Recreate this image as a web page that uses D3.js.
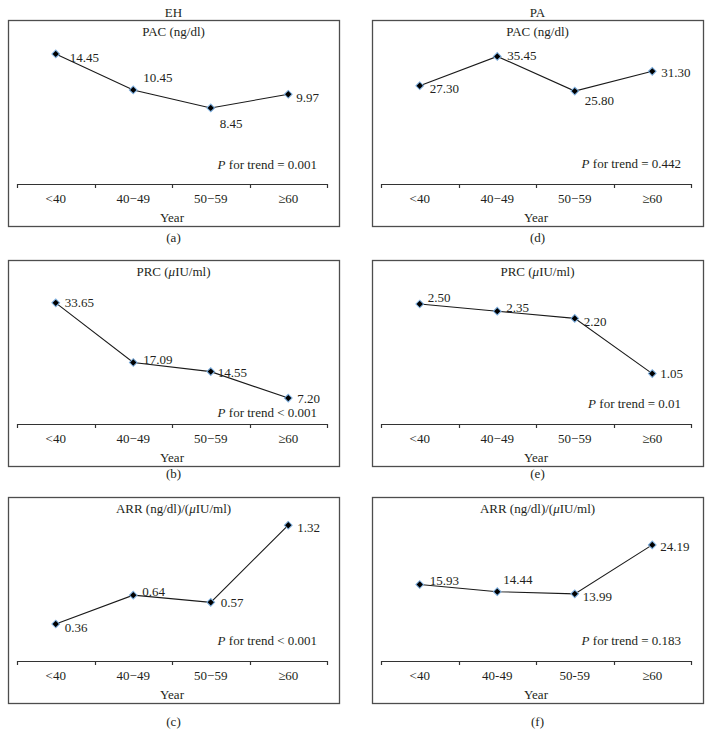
<!DOCTYPE html>
<html>
<head>
<meta charset="utf-8">
<script src="https://cdn.jsdelivr.net/npm/d3@7"></script>
<style>
  html, body { margin: 0; padding: 0; background: #fff; }
  svg { display: block; }
  text { font-family: "Liberation Serif", "Times New Roman", serif; fill: #231f20; }
</style>
</head>
<body>
<svg id="chart" width="711" height="735"></svg>
<script>
// ---------------- data ----------------
const categoriesMinus = ["<40", "40\u221249", "50\u221259", "\u226560"];
const categoriesHyphen = ["<40", "40-49", "50-59", "\u226560"];

const ehPAC = [14.45, 10.45, 8.45, 9.97];
const ehPRC = [33.65, 17.09, 14.55, 7.20];
const ehARR = [0.36, 0.64, 0.57, 1.32];
const paPAC = [27.30, 35.45, 25.80, 31.30];
const paPRC = [2.50, 2.35, 2.20, 1.05];
const paARR = [15.93, 14.44, 13.99, 24.19];

const groupHeaders = ["EH", "PA"];
const panelLetters = ["(a)", "(b)", "(c)", "(d)", "(e)", "(f)"];
const trendTexts = [" for trend = 0.001", " for trend < 0.001", " for trend < 0.001",
                    " for trend = 0.442", " for trend = 0.01", " for trend = 0.183"];
// y-axis maximum of each (hidden) value axis
const yMaxes = [16, 40, 1.4, 40, 3, 30];

// ---------------- layout ----------------
const W = 711, H = 735;
const colX = [8, 372];          // box left
const boxW = 331;
const axisInset = [9, 12];      // axis start / end inset from box
const rowAxisY = [184, 424, 661];
const letterY = [237, 473, 721];
const plotH = 144;
// label offsets [dx, dy(center)] relative to point
const labelOffsets = [
  [[14, 3], [10, -13], [9, 15], [8, 3]],
  [[9, 0], [10, -3], [7, 1], [9, 0]],
  [[9, 3], [9, -4], [10, 0], [9, 2]],
  [[10, 3], [10, -1], [10, 9], [9, 1]],
  [[8, -7], [9, -4], [9, 3], [8, 0]],
  [[10, -4], [6, -12], [8, 3], [8, 2]]
];
const trendDy = [-20, -12, -21, -21, -21, -21];

const panels = [
  {values: ehPAC, cats: categoriesMinus, col: 0, row: 0, title: [["PAC (ng/dl)", false]]},
  {values: ehPRC, cats: categoriesMinus, col: 0, row: 1, title: [["PRC (", false], ["\u03bc", true], ["IU/ml)", false]]},
  {values: ehARR, cats: categoriesMinus, col: 0, row: 2, title: [["ARR (ng/dl)/(", false], ["\u03bc", true], ["IU/ml)", false]]},
  {values: paPAC, cats: categoriesMinus, col: 1, row: 0, title: [["PAC (ng/dl)", false]]},
  {values: paPRC, cats: categoriesMinus, col: 1, row: 1, title: [["PRC (", false], ["\u03bc", true], ["IU/ml)", false]]},
  {values: paARR, cats: categoriesHyphen, col: 1, row: 2, title: [["ARR (ng/dl)/(", false], ["\u03bc", true], ["IU/ml)", false]]}
];

const svg = d3.select("#chart");
svg.append("rect").attr("width", W).attr("height", H).attr("fill", "#fff");

const fmt = d3.format(".2f");
const FS = 13;

// group headers
groupHeaders.forEach((h, i) => {
  svg.append("text")
    .attr("x", colX[i] + boxW / 2).attr("y", 17)
    .attr("text-anchor", "middle").attr("font-size", FS).text(h);
});

panels.forEach((p, i) => {
  const x0 = colX[p.col];
  const axisY = rowAxisY[p.row];
  const boxTop = axisY - 164, boxBot = axisY + 42;
  const g = svg.append("g");

  // frame
  g.append("rect")
    .attr("x", x0 + 0.5).attr("y", boxTop + 0.5)
    .attr("width", boxW).attr("height", boxBot - boxTop)
    .attr("fill", "none").attr("stroke", "#4d4d4d").attr("stroke-width", 1.3);

  const xs = d3.scaleBand().domain(p.cats)
    .range([x0 + axisInset[0], x0 + boxW - axisInset[1]]).paddingInner(0).paddingOuter(0);
  const ys = d3.scaleLinear().domain([0, yMaxes[i]]).range([axisY, axisY - plotH]);
  const cx = d => xs(d) + xs.bandwidth() / 2;
  const midX = x0 + boxW / 2;

  // title
  const t = g.append("text").attr("x", midX).attr("y", axisY - 148)
    .attr("text-anchor", "middle").attr("font-size", FS);
  p.title.forEach(([s, it]) => t.append("tspan").attr("font-style", it ? "italic" : null).text(s));

  // x axis (labels through d3 axis, tick marks at band boundaries)
  const axis = d3.axisBottom(xs).tickSize(0).tickPadding(15);
  const ax = g.append("g").attr("transform", `translate(0,${axisY})`).call(axis);
  ax.select(".domain").remove();
  ax.selectAll("text").attr("font-size", FS).attr("font-family", "Liberation Serif").attr("fill", "#231f20").attr("dy", "0.32em");
  const [r0, r1] = xs.range();
  g.append("line").attr("x1", r0).attr("x2", r1).attr("y1", axisY + 0.5).attr("y2", axisY + 0.5)
    .attr("stroke", "#333").attr("stroke-width", 1.2);
  const bounds = p.cats.map(c => xs(c)).concat([r1]);
  g.selectAll("line.tk").data(bounds).join("line").attr("class", "tk")
    .attr("x1", d => Math.round(d) + 0.5).attr("x2", d => Math.round(d) + 0.5)
    .attr("y1", axisY).attr("y2", axisY + 4)
    .attr("stroke", "#333").attr("stroke-width", 1.2);

  // Year
  g.append("text").attr("x", (r0 + r1) / 2).attr("y", axisY + 38)
    .attr("text-anchor", "middle").attr("font-size", FS).text("Year");

  // line
  const data = p.cats.map((c, k) => ({c, v: p.values[k], k}));
  const line = d3.line().x(d => cx(d.c)).y(d => ys(d.v));
  g.append("path").datum(data).attr("d", line)
    .attr("fill", "none").attr("stroke", "#1a1a1a").attr("stroke-width", 1.1);

  // markers
  const sym = d3.symbol().type(d3.symbolSquare).size(30);
  g.selectAll("path.mk").data(data).join("path").attr("class", "mk")
    .attr("d", sym)
    .attr("transform", d => `translate(${cx(d.c)},${ys(d.v)}) rotate(45)`)
    .attr("fill", "#000").attr("stroke", "#7fb0e0").attr("stroke-width", 1);

  // value labels
  g.selectAll("text.vl").data(data).join("text").attr("class", "vl")
    .attr("x", d => cx(d.c) + labelOffsets[i][d.k][0])
    .attr("y", d => ys(d.v) + labelOffsets[i][d.k][1])
    .attr("dy", "0.35em").attr("font-size", FS).text(d => fmt(d.v));

  // P for trend
  const pt = g.append("text").attr("x", r1 - 10).attr("y", axisY + trendDy[i])
    .attr("dy", "0.35em").attr("text-anchor", "end").attr("font-size", FS);
  pt.append("tspan").attr("font-style", "italic").text("P");
  pt.append("tspan").text(trendTexts[i]);

  // panel letter
  svg.append("text").attr("x", midX).attr("y", letterY[p.row]).attr("dy", "0.35em")
    .attr("text-anchor", "middle").attr("font-size", FS).text(panelLetters[i]);
});
</script>
</body>
</html>
